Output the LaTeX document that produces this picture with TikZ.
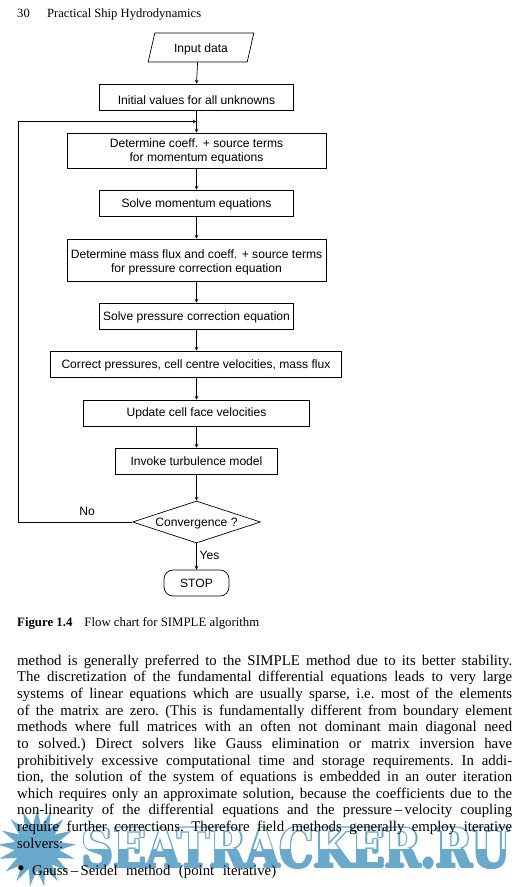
\documentclass[tikz,border=0pt]{standalone}
\usepackage{fontspec}
\setmainfont{Liberation Serif}
\newfontfamily\chartfont{Liberation Sans}
\newfontfamily\markfont{DejaVu Serif}
\usepackage{xcolor}
\usetikzlibrary{shapes.geometric,calc}
\definecolor{markblue}{HTML}{69A9CC}
\newcommand{\droptext}[2]{\raisebox{-#1}[\height][\depth]{#2}}

\begin{document}
\begin{tikzpicture}[x=1pt,y=-1pt,>=stealth,
    chartbox/.style={draw,line width=0.7pt,align=center,font=\chartfont\fontsize{12.1}{14.2}\selectfont,inner sep=0pt},
    flow/.style={->,line width=0.7pt},
    chartlabel/.style={font=\chartfont\fontsize{12.1}{14}\selectfont,inner sep=0pt},
    wmark/.style={inner sep=0pt,markblue,font=\markfont\bfseries}]
    \useasboundingbox (0,0) rectangle (521,887);

    % Watermark, under the text
    \node[star,star points=17,star point ratio=1.75,fill=markblue,inner sep=0pt,minimum size=78pt] (starmark) at (37,848) {};
    \foreach \a in {0,45,...,315}
        \node[wmark] (wm\a) at ($(296,848)+(\a:1.3)$) {\resizebox{428pt}{40pt}{SEATRACKER.RU}};
    \begin{scope}
        \clip (75,815) rectangle (518,848);
        \node[wmark,white] (wmtop) at (296,848) {\resizebox{428pt}{40pt}{SEATRACKER.RU}};
    \end{scope}

    % Page head
    \node[anchor=base west,inner sep=0pt,font=\fontsize{12.6}{14}\selectfont] (pagehead) at (17,17) {30\hspace{17.4pt}Practical Ship Hydrodynamics};

    % Boxes
    \node[chartbox,trapezium,trapezium left angle=71,trapezium right angle=109,trapezium stretches=true,minimum width=106pt,minimum height=29pt] (input) at (201,47.5) {\droptext{2pt}{Input data}};
    \node[chartbox,minimum width=194pt,minimum height=26pt] (init) at (196.5,97) {\droptext{3pt}{Initial values for all unknowns}};
    \node[chartbox,minimum width=259pt,minimum height=35pt] (coeff) at (196.5,150.5) {\droptext{1pt}{Determine coeff. + source terms}\\\droptext{1pt}{for momentum equations}};
    \node[chartbox,minimum width=194pt,minimum height=26pt] (solvemom) at (196.5,203) {\droptext{1pt}{Solve momentum equations}};
    \node[chartbox,minimum width=259pt,minimum height=42pt] (massflux) at (196.5,260) {\droptext{2pt}{Determine mass flux and coeff. + source terms}\\\droptext{2pt}{for pressure correction equation}};
    \node[chartbox,minimum width=194pt,minimum height=26pt] (solvepres) at (196.5,316) {\droptext{1.5pt}{Solve pressure correction equation}};
    \node[chartbox,minimum width=291pt,minimum height=26pt] (correct) at (196,364) {\droptext{1.5pt}{Correct pressures, cell centre velocities, mass flux}};
    \node[chartbox,minimum width=226pt,minimum height=26pt] (update) at (196.5,413) {\droptext{0.5pt}{Update cell face velocities}};
    \node[chartbox,minimum width=162pt,minimum height=26pt] (turb) at (196.5,461) {\droptext{0.5pt}{Invoke turbulence model}};
    \node[chartbox,diamond,aspect=3,minimum width=128pt,minimum height=42pt] (conv) at (196.5,522) {\droptext{2pt}{Convergence ?}};
    \node[chartbox,rounded corners=9pt,minimum width=65pt,minimum height=26pt] (stop) at (196.5,583) {STOP};

    % Arrows
    \draw[flow] (input.bottom side) -- (init.north);
    \draw[flow] (init) -- (coeff);
    \draw[flow] (coeff) -- (solvemom);
    \draw[flow] (solvemom) -- (massflux);
    \draw[flow] (massflux) -- (solvepres);
    \draw[flow] (solvepres) -- (correct.north -| solvepres);
    \draw[flow] (correct.south -| update) -- (update);
    \draw[flow] (update) -- (turb);
    \draw[flow] (turb) -- (conv);
    \draw[flow] (conv) -- (stop);

    % Way back from the test
    \coordinate (backlow) at (18,522);
    \coordinate (merge) at (196.5,121.5);
    \draw[flow] (conv.west) -- (backlow) |- (merge);
    \node[chartlabel] (nolabel) at (87,511.5) {No};
    \node[chartlabel] (yeslabel) at (209.5,555.5) {Yes};

    % Caption
    \node[anchor=base west,inner sep=0pt,font=\fontsize{12.8}{14}\selectfont] (caption) at (17,626) {\textbf{Figure 1.4}\hspace{12pt}Flow chart for SIMPLE algorithm};

    % Running text
    \node[anchor=north west,inner sep=0pt,text width=495pt,align=justify,font=\fontsize{14.8}{16.65}\selectfont\frenchspacing] (body) at (17,654.5) {%
        method is generally preferred to the SIMPLE method due to its better stability.\linebreak
        The discretization of the fundamental differential equations leads to very large\linebreak
        systems of linear equations which are usually sparse, i.e. most of the elements\linebreak
        of the matrix are zero. (This is fundamentally different from boundary element\linebreak
        methods where full matrices with an often not dominant main diagonal need\linebreak
        to solved.) Direct solvers like Gauss elimination or matrix inversion have\linebreak
        prohibitively excessive computational time and storage requirements. In addi-\linebreak
        tion, the solution of the system of equations is embedded in an outer iteration\linebreak
        which requires only an approximate solution, because the coefficients due to the\linebreak
        non-linearity of the differential equations and the pressure\,--\,velocity coupling\linebreak
        require further corrections. Therefore field methods generally employ iterative\linebreak
        solvers:};
    \node[inner sep=0pt,font=\fontsize{22}{22}\selectfont] (bullet) at (21,871) {\textbullet};
    \node[anchor=base west,inner sep=0pt,font=\fontsize{14.8}{16.6}\selectfont] (gauss) at (32,875.5) {\makebox[244pt][s]{Gauss\,--\,Seidel method (point iterative)}};
\end{tikzpicture}
\end{document}
